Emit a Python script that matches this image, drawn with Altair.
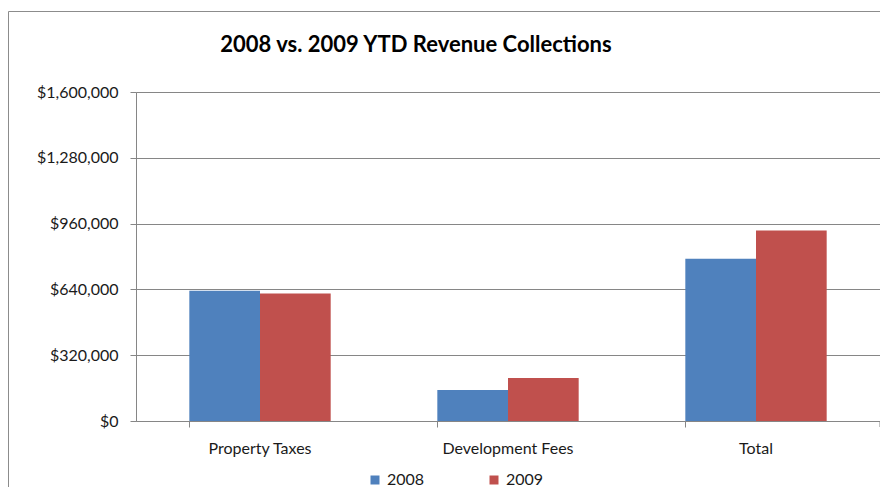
import altair as alt
import pandas as pd

categories = ["Property Taxes", "Development Fees", "Total"]
years = ["2008", "2009"]
values_2008 = [633000, 151000, 789000]
values_2009 = [620000, 209000, 927000]
y_ticks = [0, 320000, 640000, 960000, 1280000, 1600000]
colors = ["#4F81BD", "#C0504D"]
title_text = "2008 vs. 2009 YTD Revenue Collections"

rows = []
for c, a, b in zip(categories, values_2008, values_2009):
    rows.append({"category": c, "year": "2008", "value": a})
    rows.append({"category": c, "year": "2009", "value": b})
df = pd.DataFrame(rows)

FONT = "Lato"
GRID = "#868686"
W = 744
H = 329

bars = alt.Chart(df).mark_bar().encode(
    x=alt.X("category:N", sort=categories, title=None,
            scale=alt.Scale(paddingInner=0.43, paddingOuter=0.215),
            axis=alt.Axis(labelAngle=0, bandPosition=0, tickSize=6, labelPadding=13,
                          labelFont=FONT, labelFontSize=16, labelColor="#1a1a1a",
                          domainColor=GRID, tickColor=GRID, grid=False)),
    xOffset=alt.XOffset("year:N", sort=years, scale=alt.Scale(paddingInner=0, paddingOuter=0)),
    y=alt.Y("value:Q", title=None,
            scale=alt.Scale(domain=[0, 1600000], nice=False),
            axis=alt.Axis(values=y_ticks, format="$,.0f", tickSize=6, labelPadding=12,
                          labelFont=FONT, labelFontSize=16, labelColor="#1a1a1a",
                          domainColor=GRID, tickColor=GRID, gridColor=GRID, grid=True)),
    color=alt.Color("year:N", sort=years,
                    scale=alt.Scale(domain=years, range=colors),
                    legend=alt.Legend(title=None, orient="none", direction="horizontal",
                                      legendX=231, legendY=380, symbolType="square",
                                      symbolSize=81, symbolStrokeWidth=0,
                                      labelFont=FONT, labelFontSize=16, labelColor="#1a1a1a",
                                      labelOffset=4, columnPadding=61)),
)

end_tick = alt.Chart(pd.DataFrame({"a": [0]})).mark_rule(color=GRID).encode(
    x=alt.value(W), y=alt.value(H), y2=alt.value(H + 6)
)

border = alt.Chart(pd.DataFrame({"a": [0]})).mark_rect(
    fillOpacity=0, stroke="#8c8c8c", strokeWidth=1
).encode(
    x=alt.value(-127.5), x2=alt.value(900), y=alt.value(-80.5), y2=alt.value(700)
)

chart = alt.layer(border, bars, end_tick).properties(
    width=W, height=H,
    padding={"left": 128, "top": 84, "right": 0, "bottom": 66},
    autosize=alt.AutoSizeParams(type="none"),
    title=alt.TitleParams(title_text, font=FONT, fontSize=22, fontWeight="bold",
                          color="#000000", anchor="middle", baseline="alphabetic",
                          dx=-92, dy=63, offset=0),
).configure_view(stroke=None).configure(background="white")

chart.save("out.html", embed_options={"renderer": "svg", "actions": False})
